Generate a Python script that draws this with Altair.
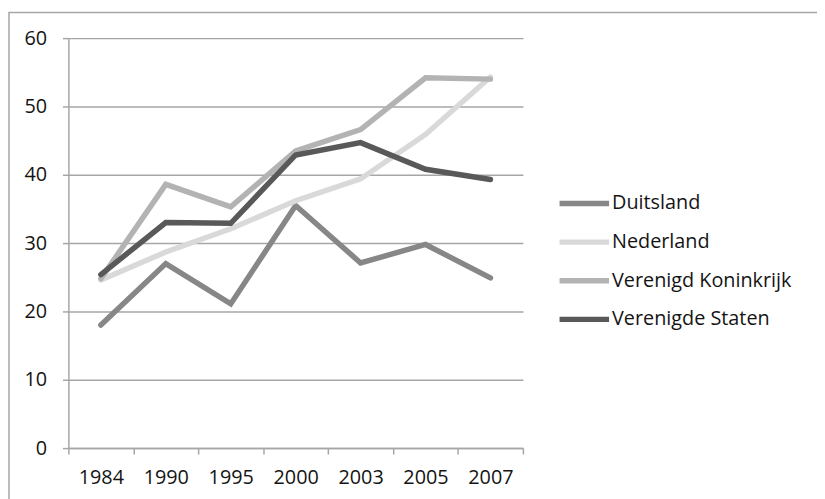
import altair as alt
import pandas as pd

years = ["1984", "1990", "1995", "2000", "2003", "2005", "2007"]
series_names = ["Duitsland", "Nederland", "Verenigd Koninkrijk", "Verenigde Staten"]
duitsland = [18.0, 27.0, 21.1, 35.5, 27.1, 29.8, 24.9]
nederland = [24.6, 28.7, 32.1, 36.2, 39.4, 45.9, 54.3]
verenigd_koninkrijk = [24.8, 38.6, 35.3, 43.5, 46.6, 54.2, 54.0]
verenigde_staten = [25.4, 33.0, 32.9, 42.9, 44.7, 40.8, 39.3]
colors = ["#878787", "#d9d9d9", "#b3b3b3", "#595959"]
y_ticks = [0, 10, 20, 30, 40, 50, 60]

rows = []
for name, vals in zip(series_names, [duitsland, nederland, verenigd_koninkrijk, verenigde_staten]):
    for yr, v in zip(years, vals):
        rows.append({"jaar": yr, "land": name, "waarde": v})
df = pd.DataFrame(rows)

FONT = "Open Sans"
TEXT = "#141414"
GRID = "#a6a6a6"

lines = alt.Chart(df).mark_line(strokeWidth=5.5, strokeCap="round", strokeJoin="miter").encode(
    x=alt.X("jaar:O", sort=years, bandPosition=0.5,
            scale=alt.Scale(type="band", paddingInner=0, paddingOuter=0),
            axis=alt.Axis(title=None, labelAngle=0, tickBand="extent", grid=False,
                          domainColor=GRID, tickColor=GRID, tickSize=6, labelPadding=14)),
    y=alt.Y("waarde:Q", scale=alt.Scale(domain=[0, 60], nice=False),
            axis=alt.Axis(title=None, values=y_ticks, grid=True, gridColor=GRID,
                          domainColor=GRID, tickColor=GRID, tickSize=6, labelPadding=16)),
    color=alt.Color("land:N", sort=series_names,
                    scale=alt.Scale(domain=series_names, range=colors),
                    legend=alt.Legend(title=None, orient="none", legendX=493, legendY=139,
                                      symbolType="stroke", symbolSize=2500, symbolStrokeWidth=5.5,
                                      labelOffset=0, rowPadding=0, padding=0, labelLimit=0,
                                      labelFont=FONT, labelFontSize=20, labelColor=TEXT)),
)

frame = alt.Chart(pd.DataFrame({"k": [0]})).mark_rect(
    fillOpacity=0, stroke="#a6a6a6", strokeWidth=1.5
).encode(x=alt.value(-60), x2=alt.value(900), y=alt.value(-26), y2=alt.value(600))

chart = alt.layer(frame, lines).properties(
    width=459, height=414,
    autosize=alt.AutoSizeParams(type="none"),
    padding={"left": 61, "top": 28, "right": 297, "bottom": 49},
).configure_view(stroke=None).configure_axis(
    labelFont=FONT, labelFontSize=20, labelColor=TEXT, gridWidth=1.5, domainWidth=1.5, tickWidth=1.5
)

chart.save("out.html", embed_options={"renderer": "svg", "actions": False})
